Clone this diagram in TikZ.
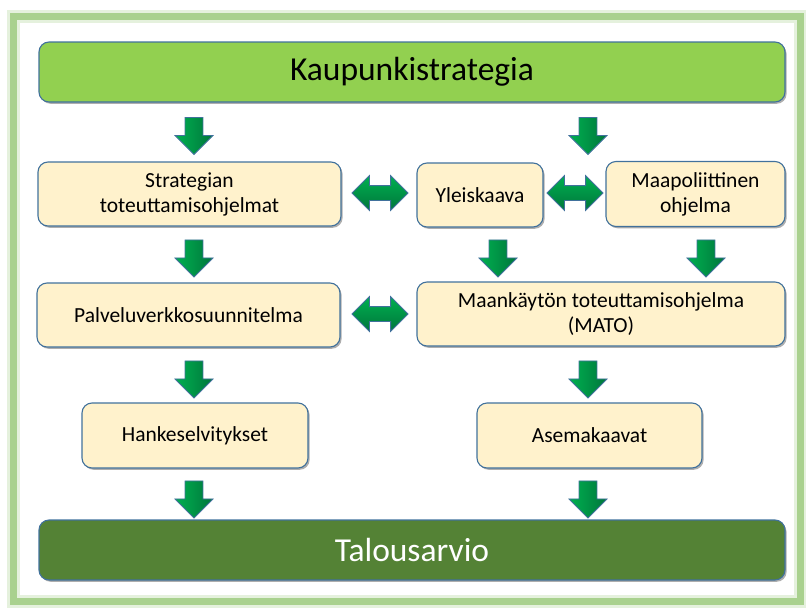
\documentclass[tikz,border=0pt]{standalone}
\usepackage{fontspec}
\setmainfont{Carlito}
\usetikzlibrary{shapes.arrows,shadows}
\definecolor{boxfill}{HTML}{FFF2CC}
\definecolor{boxline}{HTML}{41719C}
\definecolor{topfill}{HTML}{92D050}
\definecolor{botfill}{HTML}{548235}
\definecolor{frame}{HTML}{A9D18E}
\definecolor{arrlight}{HTML}{00B050}
\definecolor{arrdark}{HTML}{00763B}
\tikzset{
  stepbox/.style={rectangle, rounded corners=10pt, fill=boxfill, draw=boxline, line width=1.1pt,
    font=\fontsize{21.5}{25}\selectfont, align=center, inner sep=0pt,
    drop shadow={shadow xshift=1.6pt, shadow yshift=-1.8pt, opacity=0.45, fill=black!70}},
  bar/.style={stepbox, font=\fontsize{33.5}{38}\selectfont, minimum width=746pt, minimum height=60pt},
  downarr/.style={single arrow, shape border rotate=270, minimum height=37pt, minimum width=38pt,
    inner sep=8.5pt, single arrow head extend=10pt, draw=boxline, line width=0.8pt,
    left color=arrlight, right color=arrdark},
  duoarr/.style={double arrow, minimum height=56pt, minimum width=34pt,
    inner sep=7pt, double arrow head extend=10pt, draw=boxline, line width=0.8pt,
    top color=arrlight, bottom color=arrdark}
}
\begin{document}
\begin{tikzpicture}[x=1pt,y=-1pt]
\useasboundingbox (0,0) rectangle (806,608);
% frame
\draw[frame!50, line width=13pt, opacity=0.6] (13,16) rectangle (800,601);
\draw[frame, line width=7pt] (13,16) rectangle (800,601);
% bars
\node[bar, fill=topfill] (top) at (412,72) {\raisebox{-2pt}{Kaupunkistrategia}};
\node[bar, fill=botfill, text=white] (talous) at (412,550) {\raisebox{-2pt}{Talousarvio}};
% boxes
\node[stepbox, minimum width=303pt, minimum height=64pt] (strat) at (189.5,194) {Strategian\\toteuttamisohjelmat};
\node[stepbox, minimum width=126pt, minimum height=64pt] (yleis) at (480,195) {Yleiskaava};
\node[stepbox, minimum width=179pt, minimum height=65pt] (maapol) at (695.5,194) {Maapoliittinen\\ohjelma};
\node[stepbox, minimum width=303pt, minimum height=64pt] (palvelu) at (188.5,315) {Palveluverkkosuunnitelma};
\node[stepbox, minimum width=368pt, minimum height=64pt] (mato) at (601,314) {Maankäytön toteuttamisohjelma\\(MATO)};
\node[stepbox, minimum width=226pt, minimum height=65pt] (hanke) at (195,435.5) {Hankeselvitykset};
\node[stepbox, minimum width=225pt, minimum height=65pt] (asema) at (589.5,435.5) {Asemakaavat};
% down arrows
\node[downarr] (d1) at (194,131.5) {};
\node[downarr] (d2) at (588,131.5) {};
\node[downarr] (d3) at (194,254) {};
\node[downarr] (d4) at (498,254) {};
\node[downarr] (d5) at (706,254) {};
\node[downarr] (d6) at (194,375) {};
\node[downarr] (d7) at (588,375) {};
\node[downarr] (d8) at (194,495) {};
\node[downarr] (d9) at (588,495) {};
% double arrows
\node[duoarr] (h1) at (380,193) {};
\node[duoarr] (h2) at (575,193) {};
\node[duoarr] (h3) at (380,314) {};
\end{tikzpicture}
\end{document}
